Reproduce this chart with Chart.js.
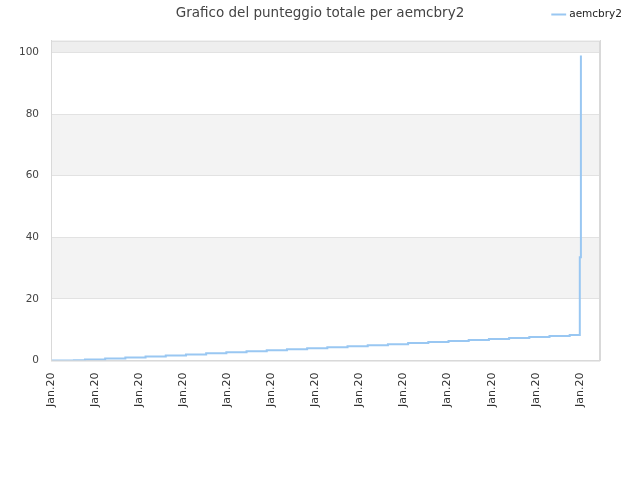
<!DOCTYPE html>
<html>
<head>
<meta charset="utf-8">
<script src="https://cdn.jsdelivr.net/npm/chart.js@4/dist/chart.umd.min.js"></script>
<style>
html,body{margin:0;padding:0;background:#fff;}
#wrap{width:640px;height:480px;position:relative;}
</style>
</head>
<body>
<div id="wrap"><canvas id="c" width="640" height="480"></canvas></div>
<script>
// ---- data ----
const seriesName = 'aemcbry2';
const titleText = 'Grafico del punteggio totale per aemcbry2';
// x positions in hours since start
const xHours = [0.5, 12.5, 18.5, 29.5, 40.5, 51.5, 62.5, 73.5, 84.5, 95.5, 106.5, 117.5, 128.5, 139.5, 150.5, 161.5, 172.5, 183.5, 194.5, 205.5, 216.5, 227.5, 238.5, 249.5, 260.5, 271.5, 282.5, 288, 288, 288.6, 288.6, 288.6];
const scores = [0, 0.1, 0.33, 0.67, 1, 1.33, 1.67, 2, 2.33, 2.67, 3, 3.33, 3.67, 4, 4.33, 4.67, 5, 5.33, 5.67, 6, 6.33, 6.67, 7, 7.33, 7.67, 8, 8.33, 23, 33.5, 44, 69, 99];
const xTickLabels = ['Jan.20','Jan.20','Jan.20','Jan.20','Jan.20','Jan.20','Jan.20','Jan.20','Jan.20','Jan.20','Jan.20','Jan.20','Jan.20'];
const yTickValues = [0, 20, 40, 60, 80, 100];

const points = xHours.map((x, i) => ({x: x, y: scores[i]}));

const bandsPlugin = {
  id: 'bands',
  beforeDraw(chart) {
    const {ctx, chartArea: a, scales: {y}} = chart;
    ctx.save();
    ctx.fillStyle = '#ffffff';
    ctx.fillRect(a.left, a.top, a.right - a.left, a.bottom - a.top);
    ctx.fillStyle = '#f3f3f3';
    [[20, 40], [60, 80]].forEach(([lo, hi]) => {
      const yt = y.getPixelForValue(hi), yb = y.getPixelForValue(lo);
      ctx.fillRect(a.left, yt, a.right - a.left, yb - yt);
    });
    ctx.fillStyle = '#eeeeee';
    const y100 = y.getPixelForValue(100);
    ctx.fillRect(a.left, a.top, a.right - a.left, y100 - a.top);
    ctx.restore();
  },
  afterDraw(chart) {
    const {ctx, chartArea: a} = chart;
    ctx.save();
    ctx.strokeStyle = '#d9d9d9';
    ctx.lineWidth = 1;
    ctx.strokeRect(a.left + 0.5, a.top + 0.5, a.right - a.left - 1, a.bottom - a.top);
    ctx.restore();
  }
};

const legendSpacer = {
  id: 'legendSpacer',
  beforeInit(chart) {
    const origFit = chart.legend.fit;
    chart.legend.fit = function () {
      origFit.bind(chart.legend)();
      this.height += 11;
    };
  },
  afterLayout(chart) {
    chart.legend.right -= 10;
  }
};

new Chart(document.getElementById('c'), {
  type: 'line',
  data: {
    datasets: [{
      label: seriesName,
      data: points,
      borderColor: '#99c7f2',
      backgroundColor: '#99c7f2',
      borderWidth: 2,
      pointRadius: 0,
      stepped: true,
      fill: false
    }]
  },
  options: {
    responsive: false,
    animation: false,
    layout: {padding: {left: 0, right: 0, top: 0, bottom: 69}},
    plugins: {
      title: {
        display: true,
        text: titleText,
        color: '#444444',
        font: {family: 'DejaVu Sans', size: 13.5, weight: 'normal'},
        padding: {top: 5, bottom: -20}
      },
      legend: {
        display: true,
        position: 'top',
        align: 'end',
        labels: {
          usePointStyle: true,
          pointStyle: 'line',
          color: '#222222',
          font: {family: 'DejaVu Sans', size: 10.5},
          padding: 8
        }
      },
      tooltip: {enabled: false}
    },
    scales: {
      x: {
        type: 'linear',
        min: 0,
        max: 299,
        grid: {display: false},
        border: {display: true, color: '#d9d9d9'},
        ticks: {
          stepSize: 24,
          includeBounds: false,
          maxRotation: 90,
          minRotation: 90,
          autoSkip: false,
          color: '#333333',
          font: {family: 'DejaVu Sans', size: 11},
          padding: 4,
          callback: (v, i) => xTickLabels[i]
        }
      },
      y: {
        min: 0,
        max: 103.8,
        afterBuildTicks(scale) { scale.ticks = yTickValues.map(v => ({value: v})); },
        afterFit(scale) { scale.width = 51; },
        grid: {color: '#e2e2e2', drawTicks: false},
        border: {display: true, color: '#d9d9d9'},
        ticks: {
          color: '#444444',
          font: {family: 'DejaVu Sans', size: 10.5},
          padding: 12
        }
      },
      y2: {
        position: 'right',
        display: true,
        grid: {display: false, drawTicks: false},
        border: {display: true, color: '#d9d9d9'},
        ticks: {display: false},
        afterFit(scale) { scale.width = 40; }
      }
    }
  },
  plugins: [bandsPlugin, legendSpacer]
});
</script>
</body>
</html>
